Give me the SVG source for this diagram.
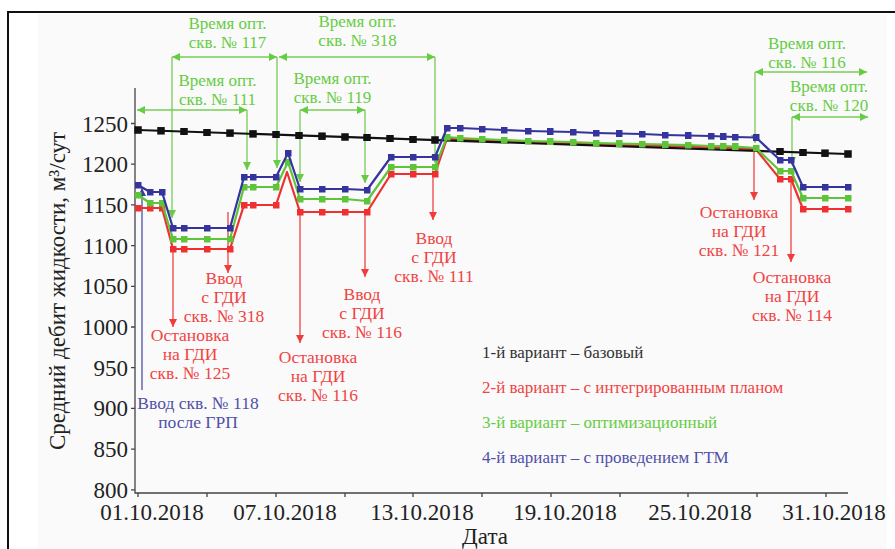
<svg xmlns="http://www.w3.org/2000/svg" width="895" height="549" viewBox="0 0 895 549" font-family="Liberation Serif, DejaVu Serif, Noto Serif, serif">
<style>
text{font-family:"Liberation Serif","DejaVu Serif","Noto Serif",serif}
.ax{font-size:23px;fill:#222}
.g{font-size:17px;fill:#66cc44;text-anchor:middle}
.r{font-size:17.5px;fill:#f04444;text-anchor:middle}
.b{font-size:17.5px;fill:#5050a8;text-anchor:middle}
.lg{font-size:17px}
.ga{stroke:#77cc55;stroke-width:1.3;fill:none}
.ra{stroke:#f04444;stroke-width:1.3;fill:none}
.ba{stroke:#5050a8;stroke-width:1.3;fill:none}
.axis{stroke:#444;stroke-width:1.3;fill:none}
</style>
<defs>
<marker id="ag" viewBox="0 0 10 10" refX="10" refY="5" markerWidth="9" markerHeight="8" markerUnits="userSpaceOnUse" orient="auto-start-reverse"><path d="M0,0L10,5L0,10z" fill="#66cc44"/></marker>
<marker id="ar" viewBox="0 0 10 10" refX="10" refY="5" markerWidth="9" markerHeight="8" markerUnits="userSpaceOnUse" orient="auto"><path d="M0,0L10,5L0,10z" fill="#f03c3c"/></marker>
<marker id="ab" viewBox="0 0 10 10" refX="10" refY="5" markerWidth="9" markerHeight="8" markerUnits="userSpaceOnUse" orient="auto-start-reverse"><path d="M0,0L10,5L0,10z" fill="#3c3c9c"/></marker>
<marker id="sk" viewBox="0 0 10 10" refX="5" refY="5" markerWidth="7.5" markerHeight="7.5" markerUnits="userSpaceOnUse"><rect width="10" height="10" fill="#111"/></marker>
<marker id="sr" viewBox="0 0 10 10" refX="5" refY="5" markerWidth="7" markerHeight="7" markerUnits="userSpaceOnUse"><rect width="10" height="10" fill="#f03030"/></marker>
<marker id="sg" viewBox="0 0 10 10" refX="5" refY="5" markerWidth="7" markerHeight="7" markerUnits="userSpaceOnUse"><rect width="10" height="10" fill="#5ec43a"/></marker>
<marker id="sb" viewBox="0 0 10 10" refX="5" refY="5" markerWidth="7" markerHeight="7" markerUnits="userSpaceOnUse"><rect width="10" height="10" fill="#34349c"/></marker>
</defs>
<rect x="0" y="0" width="895" height="549" fill="#ffffff"/>
<rect x="38" y="14" width="849" height="535" fill="#fafafa"/>
<rect x="8" y="12" width="950" height="600" fill="none" stroke="#111" stroke-width="2"/>

<g id="axes">
<path class="axis" d="M135,88V493H848"/>
<path class="axis" d="M131,123.5h4M131,164.2h4M131,204.9h4M131,245.6h4M131,286.3h4M131,327h4M131,367.7h4M131,408.4h4M131,449.1h4M131,489.8h4"/>
<path class="axis" d="M138,493v4M207,493v4M276,493v4M345,493v4M413,493v4M482,493v4M551,493v4M620,493v4M688,493v4M757,493v4M826,493v4"/>
<g class="ax" text-anchor="end">
<text x="128" y="131.5">1250</text><text x="128" y="172.2">1200</text><text x="128" y="212.9">1150</text><text x="128" y="253.6">1100</text><text x="128" y="294.3">1050</text><text x="128" y="335">1000</text><text x="128" y="375.7">950</text><text x="128" y="416.4">900</text><text x="128" y="457.1">850</text><text x="128" y="497.8">800</text>
</g>
<g class="ax" text-anchor="middle">
<text x="152" y="520">01.10.2018</text><text x="285" y="520">07.10.2018</text><text x="422" y="520">13.10.2018</text><text x="565" y="520">19.10.2018</text><text x="700" y="520">25.10.2018</text><text x="834" y="520">31.10.2018</text>
<text x="485" y="544">Дата</text>
<text transform="translate(65,291) rotate(-90)">Средний дебит жидкости, м³/сут</text>
</g>
</g>

<g id="connectors">
<path class="ga" d="M137,110H247" marker-start="url(#ag)" marker-end="url(#ag)"/>
<path class="ga" d="M247,110V170" marker-end="url(#ag)"/>
<path class="ga" d="M172,57H277" marker-start="url(#ag)" marker-end="url(#ag)"/>
<path class="ga" d="M172,57V218" marker-end="url(#ag)"/>
<path class="ga" d="M277,57V168" marker-end="url(#ag)"/>
<path class="ga" d="M279,57H435" marker-start="url(#ag)" marker-end="url(#ag)"/>
<path class="ga" d="M435,57V163" marker-end="url(#ag)"/>
<path class="ga" d="M300,110H365" marker-start="url(#ag)" marker-end="url(#ag)"/>
<path class="ga" d="M300,110V182" marker-end="url(#ag)"/>
<path class="ga" d="M365,110V183" marker-end="url(#ag)"/>
<path class="ga" d="M755,72H867" marker-start="url(#ag)" marker-end="url(#ag)"/>
<path class="ga" d="M755,72V143" marker-end="url(#ag)"/>
<path class="ga" d="M792,117H868" marker-start="url(#ag)" marker-end="url(#ag)"/>
<path class="ga" d="M792,117V165" marker-end="url(#ag)"/>
<path class="ra" d="M173,250V327" marker-end="url(#ar)"/>
<path class="ra" d="M228,212V273" marker-end="url(#ar)"/>
<path class="ra" d="M300,212V343" marker-end="url(#ar)"/>
<path class="ra" d="M365,212V277" marker-end="url(#ar)"/>
<path class="ra" d="M433,174V220" marker-end="url(#ar)"/>
<path class="ra" d="M754,150V200" marker-end="url(#ar)"/>
<path class="ra" d="M791,179V262" marker-end="url(#ar)"/>
<path class="ba" d="M142,390V188" marker-end="url(#ab)"/>
</g>

<g id="series-red">
<polyline fill="none" stroke="#f03030" stroke-width="2.2" stroke-linejoin="round" points="138,208 150,208 162,208 173,249 184,249 207,249 230,249 244,205 253,205 276,205 287,172 300,212 322,212 345,212 367,212 391,174 413,174 435,174 447,138.5 460,139.5 482,140.5 504,141.5 528,142.5 550,143 573,143.5 596,144.5 619,145 642,145.5 665,146 688,146.5 711,147.5 735,148 756,149.5 780,179 791,179 803,209 825,209 848,209"/>
<polyline fill="none" stroke="none" marker-start="url(#sr)" marker-mid="url(#sr)" marker-end="url(#sr)" points="138,208 150,208 162,208 173,249 184,249 207,249 230,249 244,205 253,205 276,205 300,212 322,212 345,212 367,212 391,174 413,174 435,174 780,179 791,179 803,209 825,209 848,209"/>
</g>
<g id="series-black">
<path d="M138,130L848,154" stroke="#111" stroke-width="2.2" fill="none"/>
<polyline fill="none" stroke="none" marker-start="url(#sk)" marker-mid="url(#sk)" marker-end="url(#sk)" points="138,130 161,130.8 184,131.6 207,132.3 230,133.1 253,133.9 276,134.7 299,135.4 322,136.2 345,137 367,137.7 390,138.5 413,139.3 435,140 780,151.7 803,152.5 825,153.2 848,154"/>
</g>
<g id="series-green">
<polyline fill="none" stroke="#5ec43a" stroke-width="2.2" stroke-linejoin="round" marker-start="url(#sg)" marker-mid="url(#sg)" marker-end="url(#sg)" points="138,195 150,203 162,203 173,239 184,239 207,239 230,239 244,187 253,187 276,187 288,162 300,199 322,199 345,199 367,201 391,167 413,167 435,167 447,137 460,138 482,139 504,140 528,141 550,141.5 573,142 596,143 619,143.5 642,144 665,144.5 688,145 711,146 723,146 735,146.5 756,148 780,171 791,171 803,198 825,198 848,198"/>
</g>
<g id="series-blue">
<polyline fill="none" stroke="#34349c" stroke-width="2.2" stroke-linejoin="round" marker-start="url(#sb)" marker-mid="url(#sb)" marker-end="url(#sb)" points="138,185 150,192 162,192 173,228 184,228 207,228 230,228 244,177 253,177 276,177 288,153 300,189 322,189 345,189 367,190 391,157 413,157 435,157 447,128 460,128 482,129 504,130 528,131 550,131.5 573,132 596,133 619,133.5 642,134 665,135 688,135.5 711,136 723,136.5 735,137 756,137.5 780,160 791,160 803,187 825,187 848,187"/>
</g>

<g id="label-opt111" class="g"><text x="217.5" y="86">Время опт.</text><text x="217.5" y="105">скв. № 111</text></g>
<g id="label-opt117" class="g"><text x="227.5" y="29">Время опт.</text><text x="227.5" y="48">скв. № 117</text></g>
<g id="label-opt318" class="g"><text x="357.5" y="27">Время опт.</text><text x="357.5" y="46">скв. № 318</text></g>
<g id="label-opt119" class="g"><text x="332.5" y="84">Время опт.</text><text x="332.5" y="103">скв. № 119</text></g>
<g id="label-opt116" class="g"><text x="807" y="49">Время опт.</text><text x="807" y="68">скв. № 116</text></g>
<g id="label-opt120" class="g"><text x="829" y="92">Время опт.</text><text x="829" y="111">скв. № 120</text></g>

<g id="label-stop125" class="r"><text x="190" y="341">Остановка</text><text x="190" y="360">на ГДИ</text><text x="190" y="379">скв. № 125</text></g>
<g id="label-in318" class="r"><text x="224" y="284">Ввод</text><text x="224" y="303">с ГДИ</text><text x="224" y="322">скв. № 318</text></g>
<g id="label-stop116" class="r"><text x="318" y="363">Остановка</text><text x="318" y="382">на ГДИ</text><text x="318" y="401">скв. № 116</text></g>
<g id="label-in116" class="r"><text x="362" y="300">Ввод</text><text x="362" y="319">с ГДИ</text><text x="362" y="338">скв. № 116</text></g>
<g id="label-in111" class="r"><text x="434" y="244">Ввод</text><text x="434" y="263">с ГДИ</text><text x="434" y="282">скв. № 111</text></g>
<g id="label-stop121" class="r"><text x="739" y="218">Остановка</text><text x="739" y="237">на ГДИ</text><text x="739" y="256">скв. № 121</text></g>
<g id="label-stop114" class="r"><text x="792" y="283">Остановка</text><text x="792" y="302">на ГДИ</text><text x="792" y="321">скв. № 114</text></g>
<g id="label-in118" class="b"><text x="198" y="409">Ввод скв. № 118</text><text x="198" y="428">после ГРП</text></g>

<g id="legend" class="lg">
<text x="482" y="358" fill="#333">1-й вариант – базовый</text>
<text x="482" y="393" fill="#f04444">2-й вариант – с интегрированным планом</text>
<text x="482" y="428" fill="#66cc44">3-й вариант – оптимизационный</text>
<text x="482" y="463" fill="#5050a8">4-й вариант – с проведением ГТМ</text>
</g>
</svg>
